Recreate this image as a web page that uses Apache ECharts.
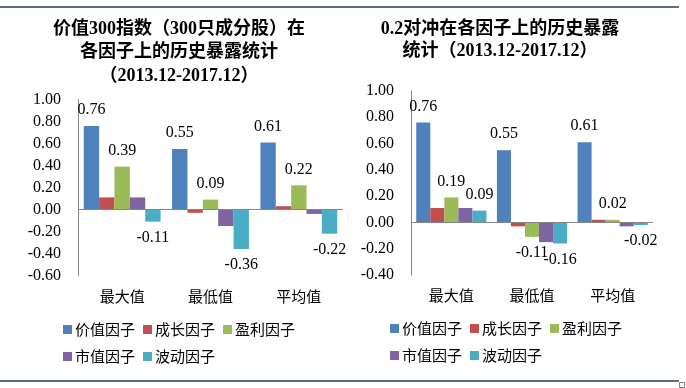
<!DOCTYPE html>
<html><head><meta charset="utf-8">
<script src="https://cdn.jsdelivr.net/npm/echarts@6/dist/echarts.min.js"></script>
<style>html,body{margin:0;padding:0;background:#fff}#c{width:686px;height:388px}</style>
</head><body><div id="c"></div>
<script>
var categories = ['最大值', '最低值', '平均值'];
var seriesNames = ['价值因子', '成长因子', '盈利因子', '市值因子', '波动因子'];
var colors = ['#4F81BD', '#C0504D', '#9BBB59', '#8064A2', '#4BACC6'];
var labeled = [true, false, true, false, true];

var leftValue = [0.76, 0.55, 0.61];
var leftGrowth = [0.11, -0.03, 0.03];
var leftProfit = [0.39, 0.09, 0.22];
var leftSize = [0.11, -0.15, -0.04];
var leftVol = [-0.11, -0.36, -0.22];

var rightValue = [0.76, 0.55, 0.61];
var rightGrowth = [0.11, -0.03, 0.02];
var rightProfit = [0.19, -0.11, 0.02];
var rightSize = [0.11, -0.15, -0.03];
var rightVol = [0.09, -0.16, -0.02];

var leftTitle = ['价值300指数（300只成分股）在', '各因子上的历史暴露统计', '（2013.12-2017.12）'];
var rightTitle = ['0.2对冲在各因子上的历史暴露', '统计（2013.12-2017.12）'];

var leftData = [leftValue, leftGrowth, leftProfit, leftSize, leftVol];
var rightData = [rightValue, rightGrowth, rightProfit, rightSize, rightVol];

var serif = '"Liberation Serif","Times New Roman",serif';
var cjk = '"Noto Sans CJK SC",sans-serif';

function makeSeries(dataSets, idx) {
  return dataSets.map(function (vals, i) {
    var s = {
      name: seriesNames[i], type: 'bar', xAxisIndex: idx, yAxisIndex: idx,
      barGap: '0%', barCategoryGap: '13%',
      itemStyle: { color: colors[i] },
      data: vals.map(function (v) {
        return { value: v, label: { position: v < 0 ? 'bottom' : 'top' } };
      }),
      label: {
        show: labeled[i], distance: 8, color: '#000', fontFamily: serif, fontSize: 16,
        formatter: function (p) { return p.value.toFixed(2); }
      }
    };
    if (i === 0) {
      s.markLine = {
        silent: true, symbol: 'none', label: { show: false },
        lineStyle: { color: '#868686', width: 1, type: 'solid' },
        data: [{ yAxis: 0 }]
      };
    }
    return s;
  });
}

function xAx(idx) {
  return {
    type: 'category', gridIndex: idx, data: categories,
    axisLine: { show: false, onZero: false }, axisTick: { show: false },
    axisLabel: { color: '#000', fontFamily: cjk, fontSize: 15, margin: 13 }
  };
}
function yAx(idx, min) {
  return {
    type: 'value', gridIndex: idx, min: min, max: 1.0, interval: 0.2,
    axisLine: { show: true, lineStyle: { color: '#868686', width: 1 } },
    axisTick: { show: false }, splitLine: { show: false },
    axisLabel: { color: '#000', fontFamily: serif, fontSize: 16, margin: 17,
      formatter: function (v) { return v.toFixed(2); } }
  };
}
function legendRow(left, top, names) {
  return {
    left: left, top: top, orient: 'horizontal', icon: 'rect',
    itemWidth: 9, itemHeight: 9, itemGap: 8, selectedMode: false,
    data: names,
    textStyle: { color: '#000', fontFamily: cjk, fontSize: 15, padding: [0, 0, 0, -2] }
  };
}
function titleTexts(lines, cx, y0, step) {
  return lines.map(function (t, i) {
    return {
      type: 'text', x: cx, y: y0 + i * step,
      style: { text: t, textAlign: 'center', textVerticalAlign: 'middle',
        fill: '#000', font: 'bold 18px "Liberation Serif","Noto Sans CJK SC",serif' }
    };
  });
}

var chart = echarts.init(document.getElementById('c'), null, { renderer: 'canvas' });
chart.setOption({
  animation: false,
  grid: [
    { left: 78, top: 99.5, width: 265, height: 176 },
    { left: 411, top: 91, width: 242, height: 184 }
  ],
  xAxis: [xAx(0), xAx(1)],
  yAxis: [yAx(0, -0.6), yAx(1, -0.4)],
  legend: [
    legendRow(58, 317, seriesNames.slice(0, 3)),
    legendRow(58, 344, seriesNames.slice(3)),
    legendRow(385, 316, seriesNames.slice(0, 3)),
    legendRow(385, 343, seriesNames.slice(3))
  ],
  series: makeSeries(leftData, 0).concat(makeSeries(rightData, 1)),
  graphic: titleTexts(leftTitle, 179, 29, 23.5).concat(titleTexts(rightTitle, 500, 29.5, 21.5)).concat([
    { type: 'line', shape: { x1: 0, y1: 7, x2: 679, y2: 7 }, style: { stroke: '#2E3D50', lineWidth: 1.5 } },
    { type: 'line', shape: { x1: 0, y1: 381, x2: 679, y2: 381 }, style: { stroke: '#2E3D50', lineWidth: 1.5 } },
    { type: 'rect', shape: { x: 679.5, y: 382.5, width: 5, height: 5 }, style: { fill: '#fff', stroke: '#808080', lineWidth: 1 } }
  ])
});
</script></body></html>
